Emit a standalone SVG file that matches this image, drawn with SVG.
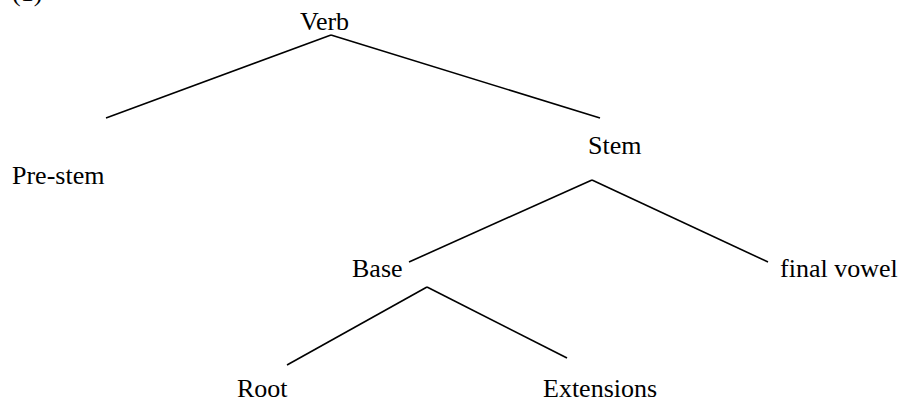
<svg xmlns="http://www.w3.org/2000/svg" width="901" height="400" viewBox="0 0 901 400">
<style>
text{font-family:"Liberation Serif","Times New Roman",serif;font-size:26px;fill:#000}
.c line{stroke:#000;stroke-width:1.6;fill:none}
</style>
<rect width="901" height="400" fill="#fff"/>
<text x="12" y="1">(1)</text>
<g class="c" id="connectors">
<line x1="331" y1="35" x2="106" y2="118"/>
<line x1="331" y1="35" x2="600" y2="118"/>
<line x1="592" y1="180" x2="409" y2="262"/>
<line x1="592" y1="180" x2="768" y2="262"/>
<line x1="427" y1="287" x2="287" y2="365"/>
<line x1="427" y1="287" x2="567" y2="358"/>
</g>
<g id="verb"><text x="300" y="30">Verb</text></g>
<g id="prestem"><text x="12" y="184">Pre-stem</text></g>
<g id="stem"><text x="588" y="154">Stem</text></g>
<g id="base"><text x="352" y="277">Base</text></g>
<g id="finalvowel"><text x="780" y="277">final vowel</text></g>
<g id="root"><text x="237" y="397">Root</text></g>
<g id="extensions"><text x="543" y="397">Extensions</text></g>
</svg>
